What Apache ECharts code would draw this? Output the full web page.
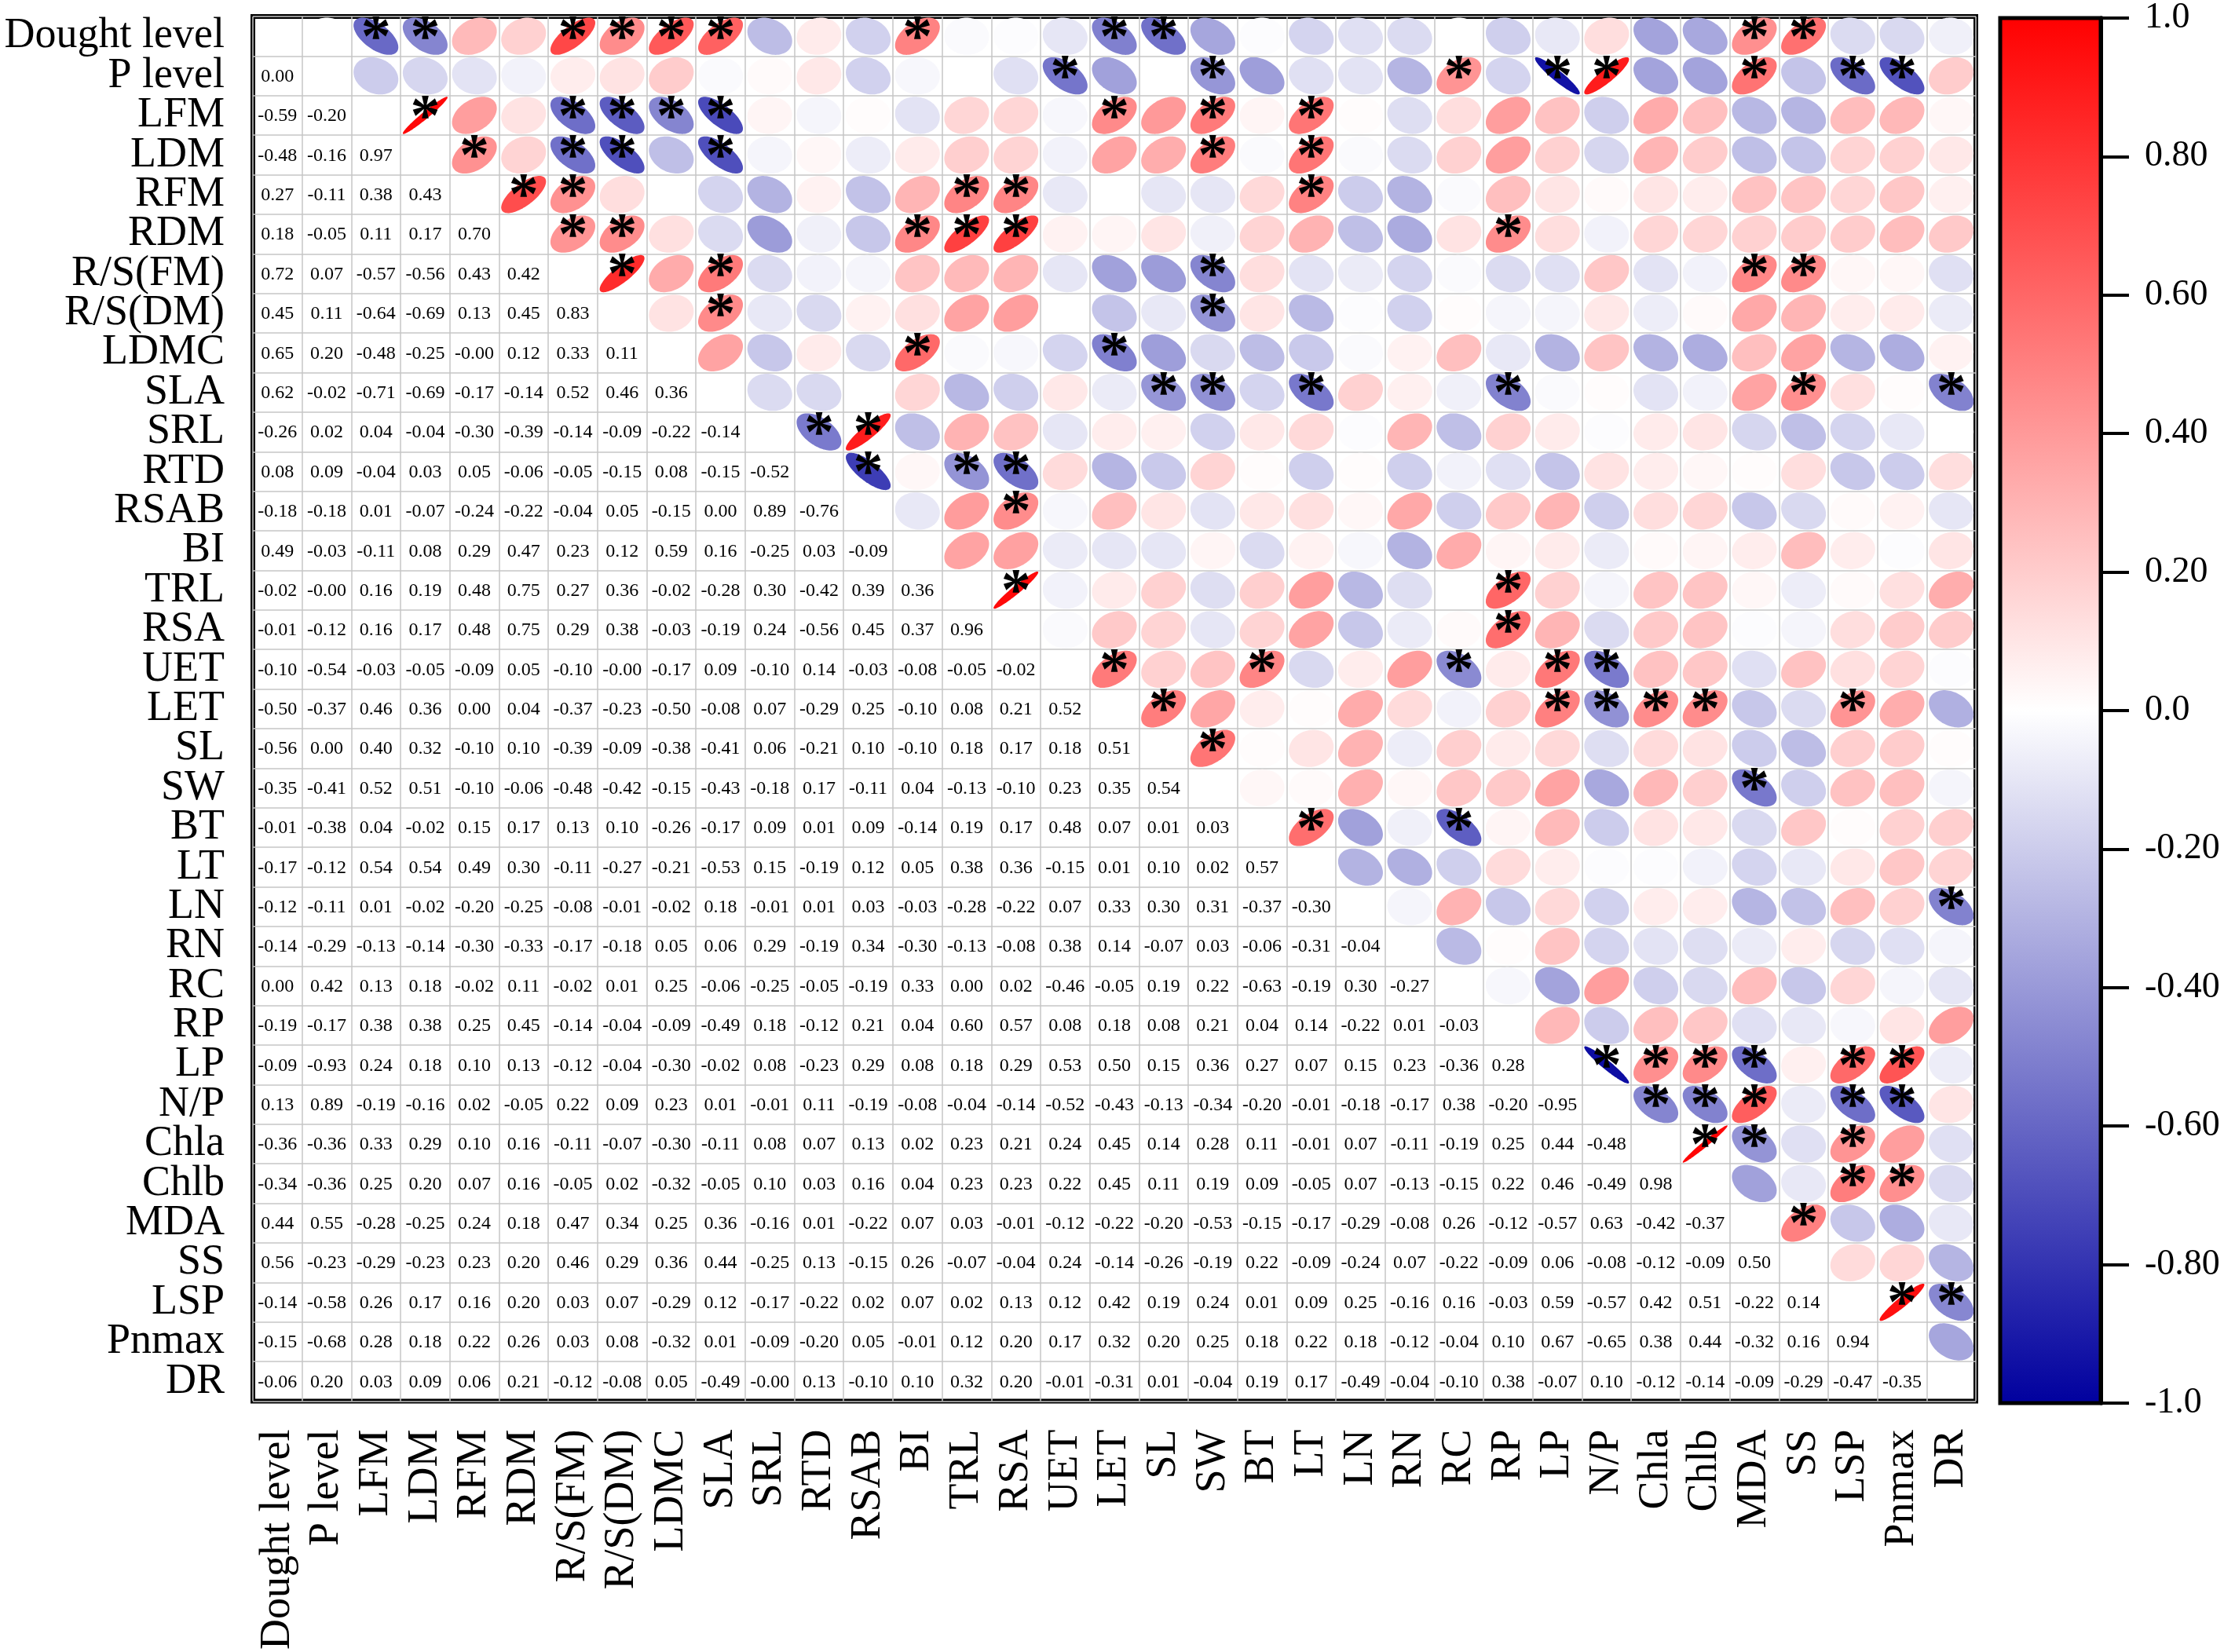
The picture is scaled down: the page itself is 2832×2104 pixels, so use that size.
<!DOCTYPE html>
<html>
<head>
<meta charset="utf-8">
<script src="https://cdn.jsdelivr.net/npm/echarts@6/dist/echarts.min.js"></script>
<style>
html, body { margin: 0; padding: 0; background: #fff; }
#chart { width: 2832px; height: 2104px; }
</style>
</head>
<body>
<div id="chart"></div>
<script>
// variables (rows top->bottom, columns left->right)
const variables = ['Dought level', 'P level', 'LFM', 'LDM', 'RFM', 'RDM', 'R/S(FM)', 'R/S(DM)', 'LDMC', 'SLA',
    'SRL', 'RTD', 'RSAB', 'BI', 'TRL', 'RSA', 'UET', 'LET', 'SL', 'SW', 'BT', 'LT', 'LN', 'RN', 'RC', 'RP',
    'LP', 'N/P', 'Chla', 'Chlb', 'MDA', 'SS', 'LSP', 'Pnmax', 'DR'];

// lower triangle, row i holds r(i, 0..i-1); upper triangle mirrors it
const corrLower = [
    [],
    [0.00],
    [-0.59, -0.20],
    [-0.48, -0.16, 0.97],
    [0.27, -0.11, 0.38, 0.43],
    [0.18, -0.05, 0.11, 0.17, 0.70],
    [0.72, 0.07, -0.57, -0.56, 0.43, 0.42],
    [0.45, 0.11, -0.64, -0.69, 0.13, 0.45, 0.83],
    [0.65, 0.20, -0.48, -0.25, -0.00, 0.12, 0.33, 0.11],
    [0.62, -0.02, -0.71, -0.69, -0.17, -0.14, 0.52, 0.46, 0.36],
    [-0.26, 0.02, 0.04, -0.04, -0.30, -0.39, -0.14, -0.09, -0.22, -0.14],
    [0.08, 0.09, -0.04, 0.03, 0.05, -0.06, -0.05, -0.15, 0.08, -0.15, -0.52],
    [-0.18, -0.18, 0.01, -0.07, -0.24, -0.22, -0.04, 0.05, -0.15, 0.00, 0.89, -0.76],
    [0.49, -0.03, -0.11, 0.08, 0.29, 0.47, 0.23, 0.12, 0.59, 0.16, -0.25, 0.03, -0.09],
    [-0.02, -0.00, 0.16, 0.19, 0.48, 0.75, 0.27, 0.36, -0.02, -0.28, 0.30, -0.42, 0.39, 0.36],
    [-0.01, -0.12, 0.16, 0.17, 0.48, 0.75, 0.29, 0.38, -0.03, -0.19, 0.24, -0.56, 0.45, 0.37, 0.96],
    [-0.10, -0.54, -0.03, -0.05, -0.09, 0.05, -0.10, -0.00, -0.17, 0.09, -0.10, 0.14, -0.03, -0.08, -0.05, -0.02],
    [-0.50, -0.37, 0.46, 0.36, 0.00, 0.04, -0.37, -0.23, -0.50, -0.08, 0.07, -0.29, 0.25, -0.10, 0.08, 0.21, 0.52],
    [-0.56, 0.00, 0.40, 0.32, -0.10, 0.10, -0.39, -0.09, -0.38, -0.41, 0.06, -0.21, 0.10, -0.10, 0.18, 0.17, 0.18, 0.51],
    [-0.35, -0.41, 0.52, 0.51, -0.10, -0.06, -0.48, -0.42, -0.15, -0.43, -0.18, 0.17, -0.11, 0.04, -0.13, -0.10, 0.23, 0.35, 0.54],
    [-0.01, -0.38, 0.04, -0.02, 0.15, 0.17, 0.13, 0.10, -0.26, -0.17, 0.09, 0.01, 0.09, -0.14, 0.19, 0.17, 0.48, 0.07, 0.01, 0.03],
    [-0.17, -0.12, 0.54, 0.54, 0.49, 0.30, -0.11, -0.27, -0.21, -0.53, 0.15, -0.19, 0.12, 0.05, 0.38, 0.36, -0.15, 0.01, 0.10, 0.02, 0.57],
    [-0.12, -0.11, 0.01, -0.02, -0.20, -0.25, -0.08, -0.01, -0.02, 0.18, -0.01, 0.01, 0.03, -0.03, -0.28, -0.22, 0.07, 0.33, 0.30, 0.31, -0.37, -0.30],
    [-0.14, -0.29, -0.13, -0.14, -0.30, -0.33, -0.17, -0.18, 0.05, 0.06, 0.29, -0.19, 0.34, -0.30, -0.13, -0.08, 0.38, 0.14, -0.07, 0.03, -0.06, -0.31, -0.04],
    [0.00, 0.42, 0.13, 0.18, -0.02, 0.11, -0.02, 0.01, 0.25, -0.06, -0.25, -0.05, -0.19, 0.33, 0.00, 0.02, -0.46, -0.05, 0.19, 0.22, -0.63, -0.19, 0.30, -0.27],
    [-0.19, -0.17, 0.38, 0.38, 0.25, 0.45, -0.14, -0.04, -0.09, -0.49, 0.18, -0.12, 0.21, 0.04, 0.60, 0.57, 0.08, 0.18, 0.08, 0.21, 0.04, 0.14, -0.22, 0.01, -0.03],
    [-0.09, -0.93, 0.24, 0.18, 0.10, 0.13, -0.12, -0.04, -0.30, -0.02, 0.08, -0.23, 0.29, 0.08, 0.18, 0.29, 0.53, 0.50, 0.15, 0.36, 0.27, 0.07, 0.15, 0.23, -0.36, 0.28],
    [0.13, 0.89, -0.19, -0.16, 0.02, -0.05, 0.22, 0.09, 0.23, 0.01, -0.01, 0.11, -0.19, -0.08, -0.04, -0.14, -0.52, -0.43, -0.13, -0.34, -0.20, -0.01, -0.18, -0.17, 0.38, -0.20, -0.95],
    [-0.36, -0.36, 0.33, 0.29, 0.10, 0.16, -0.11, -0.07, -0.30, -0.11, 0.08, 0.07, 0.13, 0.02, 0.23, 0.21, 0.24, 0.45, 0.14, 0.28, 0.11, -0.01, 0.07, -0.11, -0.19, 0.25, 0.44, -0.48],
    [-0.34, -0.36, 0.25, 0.20, 0.07, 0.16, -0.05, 0.02, -0.32, -0.05, 0.10, 0.03, 0.16, 0.04, 0.23, 0.23, 0.22, 0.45, 0.11, 0.19, 0.09, -0.05, 0.07, -0.13, -0.15, 0.22, 0.46, -0.49, 0.98],
    [0.44, 0.55, -0.28, -0.25, 0.24, 0.18, 0.47, 0.34, 0.25, 0.36, -0.16, 0.01, -0.22, 0.07, 0.03, -0.01, -0.12, -0.22, -0.20, -0.53, -0.15, -0.17, -0.29, -0.08, 0.26, -0.12, -0.57, 0.63, -0.42, -0.37],
    [0.56, -0.23, -0.29, -0.23, 0.23, 0.20, 0.46, 0.29, 0.36, 0.44, -0.25, 0.13, -0.15, 0.26, -0.07, -0.04, 0.24, -0.14, -0.26, -0.19, 0.22, -0.09, -0.24, 0.07, -0.22, -0.09, 0.06, -0.08, -0.12, -0.09, 0.50],
    [-0.14, -0.58, 0.26, 0.17, 0.16, 0.20, 0.03, 0.07, -0.29, 0.12, -0.17, -0.22, 0.02, 0.07, 0.02, 0.13, 0.12, 0.42, 0.19, 0.24, 0.01, 0.09, 0.25, -0.16, 0.16, -0.03, 0.59, -0.57, 0.42, 0.51, -0.22, 0.14],
    [-0.15, -0.68, 0.28, 0.18, 0.22, 0.26, 0.03, 0.08, -0.32, 0.01, -0.09, -0.20, 0.05, -0.01, 0.12, 0.20, 0.17, 0.32, 0.20, 0.25, 0.18, 0.22, 0.18, -0.12, -0.04, 0.10, 0.67, -0.65, 0.38, 0.44, -0.32, 0.16, 0.94],
    [-0.06, 0.20, 0.03, 0.09, 0.06, 0.21, -0.12, -0.08, 0.05, -0.49, -0.00, 0.13, -0.10, 0.10, 0.32, 0.20, -0.01, -0.31, 0.01, -0.04, 0.19, 0.17, -0.49, -0.04, -0.10, 0.38, -0.07, 0.10, -0.12, -0.14, -0.09, -0.29, -0.47, -0.35]
];

// asterisks in the upper triangle: for row i, the column indices marked *
const sigUpper = [
    [2, 3, 6, 7, 8, 9, 13, 17, 18, 30, 31],
    [16, 19, 24, 26, 27, 30, 32, 33],
    [3, 6, 7, 8, 9, 17, 19, 21],
    [4, 6, 7, 9, 19, 21],
    [5, 6, 14, 15, 21],
    [6, 7, 13, 14, 15, 25],
    [7, 9, 19, 30, 31],
    [9, 19],
    [13, 17],
    [18, 19, 21, 25, 31, 34],
    [11, 12],
    [12, 14, 15],
    [15],
    [],
    [15, 25],
    [25],
    [17, 20, 24, 26, 27],
    [18, 26, 27, 28, 29, 32],
    [19],
    [30],
    [21, 24],
    [],
    [34],
    [],
    [],
    [],
    [27, 28, 29, 30, 32, 33],
    [28, 29, 30, 32, 33],
    [29, 30, 32],
    [32, 33],
    [31],
    [],
    [33, 34],
    [],
    []
];

// colour scale -1 .. 1
const colorStops = ['#00009E', '#FFFFFF', '#FF0000'];
const barRange = [-1, 1];

const FONT = '"Liberation Serif", "Times New Roman", serif';
const n = variables.length;

const upperCells = [];
const lowerCells = [];
for (let i = 0; i < n; i++) {
    for (let j = 0; j < n; j++) {
        if (j > i) upperCells.push([j, i, corrLower[j][i], sigUpper[i].includes(j) ? 1 : 0]);
        else if (j < i) lowerCells.push([j, i, corrLower[i][j]]);
    }
}

function fmt(v) {
    if (Object.is(v, -0)) return '-0.00';
    return v.toFixed(2);
}

// ellipse like corrplot: x = cos(t + d/2), y = cos(t - d/2), d = acos(r)
function renderEllipse(params, api) {
    const r = api.value(2);
    const c = api.coord([api.value(0), api.value(1)]);
    const s = api.size([1, 1]);
    const rx = s[0] * 0.455, ry = s[1] * 0.47;
    const d = Math.acos(Math.max(-1, Math.min(1, r)));
    const pts = [];
    for (let k = 0; k < 96; k++) {
        const t = (k / 96) * Math.PI * 2;
        pts.push([c[0] + rx * Math.cos(t + d / 2), c[1] - ry * Math.cos(t - d / 2)]);
    }
    const children = [{ type: 'polygon', shape: { points: pts }, style: { fill: api.visual('color') } }];
    if (api.value(3) === 1) {
        children.push({
            type: 'text',
            style: {
                text: '*', x: c[0], y: c[1] + 5,
                align: 'center', verticalAlign: 'middle',
                font: 'bold 76px ' + FONT, fill: '#000'
            }
        });
    }
    return { type: 'group', children };
}

function renderNumber(params, api) {
    const c = api.coord([api.value(0), api.value(1)]);
    return {
        type: 'text',
        style: {
            text: fmt(lowerCells[params.dataIndex][2]),
            x: c[0], y: c[1] + 1,
            align: 'center', verticalAlign: 'middle',
            font: '24px ' + FONT, fill: '#000'
        }
    };
}

function renderBar(params, api) {
    const p0 = api.coord([api.value(0), api.value(3)]);
    const p1 = api.coord([api.value(2), api.value(1)]);
    return {
        type: 'rect',
        shape: { x: p0[0], y: p0[1], width: p1[0] - p0[0], height: p1[1] - p0[1] },
        style: {
            fill: new echarts.graphic.LinearGradient(0, 0, 0, 1, [
                { offset: 0, color: colorStops[2] },
                { offset: 0.5, color: colorStops[1] },
                { offset: 1, color: colorStops[0] }
            ]),
            stroke: '#000',
            lineWidth: 5
        }
    };
}

const chart = echarts.init(document.getElementById('chart'), null, { renderer: 'canvas' });

chart.setOption({
    animation: false,
    backgroundColor: '#fff',
    grid: [
        { left: 322, top: 21, width: 2194, height: 1766, show: true, borderColor: '#000', borderWidth: 6, backgroundColor: 'transparent' },
        { left: 2547, top: 21, width: 128, height: 1766 }
    ],
    xAxis: [
        {
            type: 'category', data: variables, gridIndex: 0, position: 'bottom',
            axisLine: { show: false }, axisTick: { show: false },
            axisLabel: { interval: 0, rotate: 90, margin: 36, fontSize: 54, fontFamily: FONT, color: '#000' },
            splitLine: { show: true, interval: 0, lineStyle: { color: '#c6c6c6', width: 1.5 } }
        },
        { type: 'value', gridIndex: 1, min: 0, max: 1, show: false }
    ],
    yAxis: [
        {
            type: 'category', data: variables, gridIndex: 0, inverse: true,
            axisLine: { show: false }, axisTick: { show: false },
            axisLabel: { interval: 0, margin: 36, fontSize: 54, fontFamily: FONT, color: '#000' },
            splitLine: { show: true, interval: 0, lineStyle: { color: '#c6c6c6', width: 1.5 } }
        },
        {
            type: 'value', gridIndex: 1, min: -1, max: 1, interval: 0.2, position: 'right', z: 5,
            axisLine: { show: true, onZero: false, lineStyle: { color: '#000', width: 5 } },
            axisTick: { show: true, inside: false, length: 36, lineStyle: { color: '#000', width: 4 } },
            axisLabel: {
                margin: 56, fontSize: 46, fontFamily: FONT, color: '#000',
                formatter: v => (Math.abs(v) > 0.999 || Math.abs(v) < 0.001) ? Math.round(v).toFixed(1) : v.toFixed(2)
            },
            splitLine: { show: false }
        }
    ],
    visualMap: {
        type: 'continuous', show: false, min: -1, max: 1, dimension: 2, seriesIndex: 0,
        inRange: { color: colorStops }
    },
    series: [
        {
            type: 'custom', name: 'ellipse', xAxisIndex: 0, yAxisIndex: 0,
            encode: { x: 0, y: 1 }, data: upperCells, renderItem: renderEllipse, z: 2
        },
        {
            type: 'custom', name: 'value', xAxisIndex: 0, yAxisIndex: 0,
            encode: { x: 0, y: 1 }, data: lowerCells, renderItem: renderNumber, z: 2
        },
        {
            type: 'custom', name: 'colorbar', xAxisIndex: 1, yAxisIndex: 1,
            encode: { x: [0, 2], y: [1, 3] }, data: [[0, barRange[0], 1, barRange[1]]], renderItem: renderBar, z: 2
        }
    ]
});
</script>
</body>
</html>
